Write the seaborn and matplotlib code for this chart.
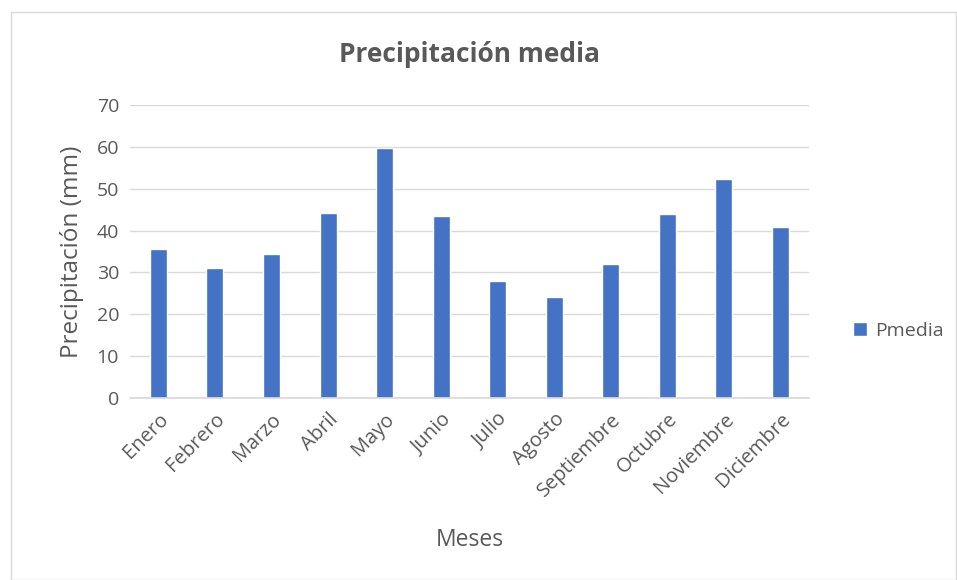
import matplotlib
matplotlib.use("Agg")
import matplotlib.pyplot as plt
from matplotlib.patches import Rectangle
import pandas as pd
import seaborn as sns

# === datos ===
meses = ["Enero", "Febrero", "Marzo", "Abril", "Mayo", "Junio", "Julio",
         "Agosto", "Septiembre", "Octubre", "Noviembre", "Diciembre"]
pmedia = [35.5, 31.1, 34.4, 44.1, 59.7, 43.4, 28.0, 24.1, 31.9, 44.0, 52.2, 40.8]

df = pd.DataFrame({"Meses": meses, "Pmedia": pmedia})

sns.set_theme(style="white")
plt.rcParams["font.family"] = ["Open Sans", "DejaVu Sans"]
gris = "#595959"
azul = "#4472C4"

fig = plt.figure(figsize=(9.57, 5.8), dpi=100)
ax = fig.add_axes([0.136, 0.3133, 0.709, 0.5062])

sns.barplot(data=df, x="Meses", y="Pmedia", color=azul, width=0.3,
            saturation=1, ax=ax, label="Pmedia")

ax.set_ylim(0, 70)
ax.set_yticks(range(0, 71, 10))
ax.set_xlim(-0.5, len(meses) - 0.5)
ax.yaxis.grid(True, color="#d9d9d9", linewidth=1)
ax.set_axisbelow(True)
for s in ["top", "right", "left"]:
    ax.spines[s].set_visible(False)
ax.spines["bottom"].set_color("#d9d9d9")
ax.tick_params(axis="y", length=0, labelsize=14, colors=gris, pad=8)
ax.tick_params(axis="x", length=0, labelsize=14.5, colors=gris, pad=8)
plt.setp(ax.get_xticklabels(), rotation=45, ha="right", rotation_mode="anchor")

ax.set_xlabel("Meses", fontsize=16.5, color=gris, labelpad=20)
ax.set_ylabel("Precipitación (mm)", fontsize=17.5, color=gris, labelpad=9)
ax.set_title("Precipitación media", fontsize=19, fontweight="bold",
             color=gris, pad=31)

ax.legend(loc="center left", bbox_to_anchor=(1.04, 0.23), frameon=False,
          fontsize=14, labelcolor=gris, handlelength=0.7, handleheight=0.7,
          handletextpad=0.4)

# marco exterior
fig.patches.append(Rectangle((0.011, 0.0), 0.988, 0.979, transform=fig.transFigure,
                             fill=False, edgecolor="#d9d9d9", linewidth=1))

fig.savefig("out.png", dpi=100)
plt.close(fig)
